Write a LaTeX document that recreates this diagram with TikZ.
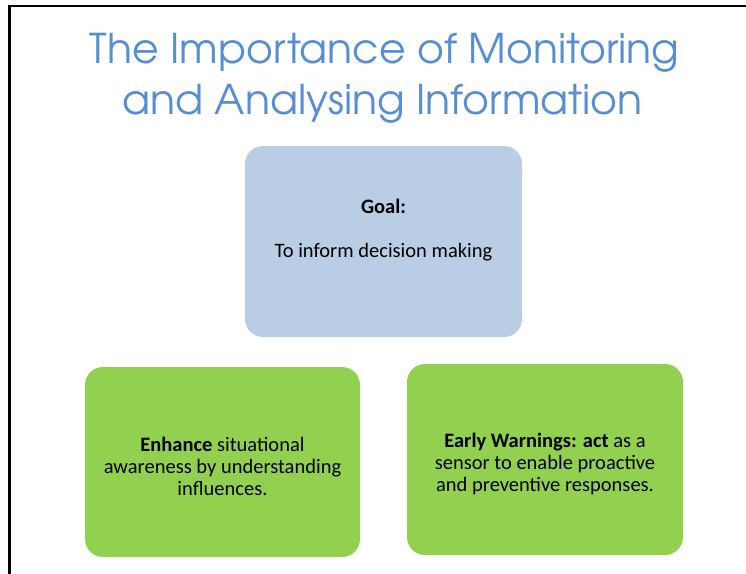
\documentclass[tikz,border=0pt]{standalone}
\usepackage{fontspec}
\setmainfont{Carlito}
\newfontfamily\titlefont{TeX Gyre Adventor}
\definecolor{titleblue}{HTML}{558ED5}
\definecolor{goalblue}{HTML}{B9CDE5}
\definecolor{leafgreen}{HTML}{92D050}
\tikzset{
  panel/.style={rounded corners=18pt, draw=none, inner sep=0pt},
  bodytext/.style={font=\fontsize{20.5}{22}\selectfont, align=center, inner sep=0pt, text=black},
  titletext/.style={font=\titlefont\fontsize{41}{51}\selectfont, text=titleblue, inner sep=0pt}
}
\begin{document}
\begin{tikzpicture}[x=1pt,y=-1pt]
\useasboundingbox (0,0) rectangle (746,573);
\fill[white] (0,0) rectangle (746,573);
% frame
\coordinate (fb) at (9.5,573);
\coordinate (fc) at (9.5,6);
\coordinate (fr) at (746,6);
\draw[line width=2.6pt, line cap=rect] (fb) -- (fc) -- (fr);
% title
\node[titletext, anchor=base] (t1) at (384.5,63) {The Importance of Monitoring};
\node[titletext, anchor=base] (t2) at (382.5,114) {and Analysing Information};
% boxes
\node[panel, fill=goalblue, minimum width=277pt, minimum height=191pt] (goal) at (383.5,241.5) {};
\node[bodytext, anchor=base] (goalh) at (383.5,213) {\textbf{Goal:}};
\node[bodytext, anchor=base] (goalt) at (383.5,257) {To inform decision making};
\node[panel, fill=leafgreen, minimum width=275pt, minimum height=190pt] (enh) at (222.5,462) {};
\node[bodytext] (enht) at (222.5,466) {\textbf{Enhance} situational\\awareness by understanding\\influences.};
\node[panel, fill=leafgreen, minimum width=276pt, minimum height=191pt] (warn) at (545,459.5) {};
\node[bodytext] (warnt) at (545,464) {\textbf{Early Warnings: act} as a\\sensor to enable proactive\\and preventive responses.};
\end{tikzpicture}
\end{document}
